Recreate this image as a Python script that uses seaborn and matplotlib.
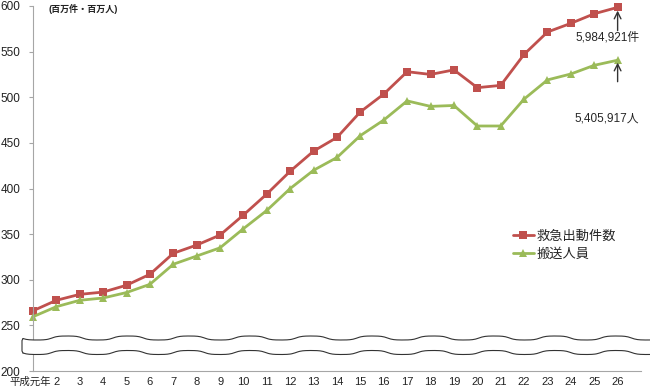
import numpy as np
import pandas as pd
import matplotlib
matplotlib.use("Agg")
from matplotlib import pyplot as plt
from matplotlib.patches import Polygon
from matplotlib.transforms import ScaledTranslation
import seaborn as sns

# 年次 (平成)
years = list(range(1, 27))
year_labels = ["平成元年"] + [str(y) for y in range(2, 27)]

# 救急出動件数 (万件)
dispatch = [266, 277.5, 284, 286.5, 294, 306, 329, 338, 349, 371, 394, 419, 441,
            456, 484, 503.5, 528, 525, 530, 510.5, 513, 547, 571.5, 581, 591.5, 598.5]
# 搬送人員 (万人)
transported = [259.5, 270.5, 277.5, 280, 286, 295, 317, 326, 335, 356, 376, 400, 420,
               434, 458, 475, 496, 490, 491, 468.5, 468.5, 498, 519, 525.5, 535, 540.6]

series_names = ["救急出動件数", "搬送人員"]
colors = ["#C0504D", "#9BBB59"]

df = pd.DataFrame({
    "year": years * 2,
    "value": dispatch + transported,
    "series": [series_names[0]] * len(years) + [series_names[1]] * len(years),
})

sns.set_theme(style="white")
plt.rcParams['font.family'] = ['Liberation Sans', 'Noto Sans CJK JP', 'DejaVu Sans']

fig = plt.figure(figsize=(6.5, 3.92), dpi=100)
ax = fig.add_axes([33 / 650, 21 / 392, 608 / 650, 365 / 392])

sns.lineplot(data=df, x="year", y="value", hue="series", style="series",
             markers={"救急出動件数": "s", "搬送人員": "^"}, dashes=False,
             palette=colors, linewidth=2, markersize=6, markeredgewidth=0,
             ax=ax, clip_on=False)

ax.set_xlim(1, 27)
ax.set_ylim(200, 600)
ax.set_xlabel("")
ax.set_ylabel("")
ax.set_yticks(range(200, 601, 50))
ax.tick_params(axis="y", labelsize=8.5, length=3, width=0.8, color="#A6A6A6",
               left=True, pad=6, labelcolor="#222222")
ax.set_xticks(years)
ax.set_xticklabels(year_labels)
ax.tick_params(axis="x", which="major", length=0, labelsize=8, pad=4,
               labelcolor="#222222")
first = ax.get_xticklabels()[0]
first.set_fontsize(7.5)
first.set_transform(first.get_transform() + ScaledTranslation(-3 / 100, 0, fig.dpi_scale_trans))
ax.set_xticks([6, 11, 16, 21, 26], minor=True)
ax.tick_params(axis="x", which="minor", direction="in", length=3, width=0.8,
               color="#A6A6A6", bottom=True)
for s in ["top", "right"]:
    ax.spines[s].set_visible(False)
for s in ["left", "bottom"]:
    ax.spines[s].set_color("#A6A6A6")
    ax.spines[s].set_linewidth(0.8)

ax.legend(loc="upper left", bbox_to_anchor=(0.78, 0.40), frameon=False,
          fontsize=9.5, handlelength=1.6, handletextpad=0.2, labelspacing=0.45,
          borderaxespad=0)

fig.text(48 / 650, 1 - 9 / 392, "(百万件・百万人)", fontsize=6.5, va="center",
         ha="left", color="#222222", fontweight="bold")

# 矢印と注記
ax.annotate("", xy=(26, 598), xytext=(26, 570),
            arrowprops=dict(arrowstyle="->", color="#333333", lw=1))
ax.text(25.55, 566, "5,984,921件", ha="center", va="center", fontsize=8.5)
ax.annotate("", xy=(26, 541), xytext=(26, 514),
            arrowprops=dict(arrowstyle="->", color="#333333", lw=1))
ax.text(25.55, 477, "5,405,917人", ha="center", va="center", fontsize=8.5)

# 省略の波線
xs = np.linspace(23, 650, 400)
wave = 2.0 * np.tanh(1.6 * np.sin(2 * np.pi * (xs - 52) / 61)) / np.tanh(1.6)
top_y = 338 - wave
bot_y = 352.5 - wave
pts = np.vstack([np.column_stack([xs, top_y]), np.column_stack([xs[::-1], bot_y[::-1]])])
fig_pts = np.column_stack([pts[:, 0] / 650, 1 - pts[:, 1] / 392])
fig.add_artist(Polygon(fig_pts, closed=True, facecolor="white", edgecolor="none",
                       transform=fig.transFigure))
for yy in (top_y, bot_y):
    fig.add_artist(plt.Line2D(xs / 650, 1 - yy / 392, color="#333333", lw=0.8,
                              transform=fig.transFigure))
fig.add_artist(plt.Line2D([23 / 650, 22 / 650, 22 / 650, 23 / 650],
                          [1 - top_y[0] / 392, 1 - (top_y[0] + 2) / 392,
                           1 - (bot_y[0] - 2) / 392, 1 - bot_y[0] / 392],
                          color="#333333", lw=0.8, transform=fig.transFigure))

fig.savefig("out.png", dpi=100)
